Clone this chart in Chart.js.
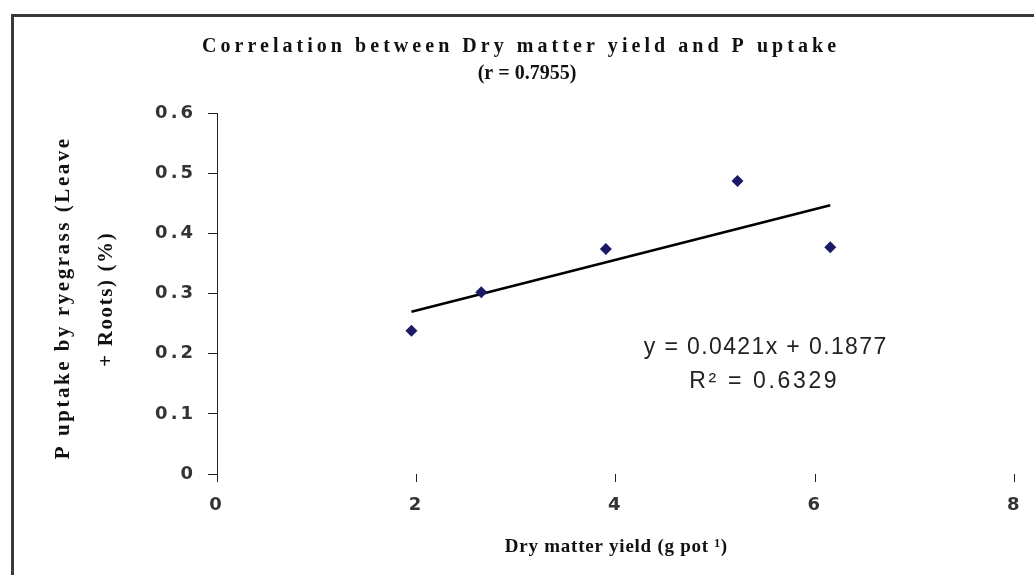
<!DOCTYPE html>
<html>
<head>
<meta charset="utf-8">
<title>Correlation between Dry matter yield and P uptake</title>
<script src="https://cdn.jsdelivr.net/npm/chart.js@4.4.1/dist/chart.umd.min.js"></script>
<style>
  html, body { margin: 0; padding: 0; background: #fff; }
  #wrap { width: 1034px; height: 575px; }
</style>
</head>
<body>
<div id="wrap"><canvas id="chart"></canvas></div>
<script>
'use strict';

// ── Data ─────────────────────────────────────────────────────
const dryMatter = [1.95, 2.65, 3.90, 5.22, 6.15];      // g pot-1
const pUptake   = [0.238, 0.302, 0.374, 0.487, 0.377];  // %
const trendSlope     = 0.0421;
const trendIntercept = 0.1877;

const xTickValues = [0, 2, 4, 6, 8];
const xTickLabels = ['0', '2', '4', '6', '8'];
const yTickValues = [0, 0.1, 0.2, 0.3, 0.4, 0.5, 0.6];
const yTickLabels = ['0', '0.1', '0.2', '0.3', '0.4', '0.5', '0.6'];

const titleLines  = ['Correlation between Dry matter yield and P uptake', '(r = 0.7955)'];
const yTitleLines = ['P uptake by ryegrass (Leave', '+ Roots) (%)'];
const xTitle      = 'Dry matter yield (g pot \u00B9)';
const eqLines     = ['y = 0.0421x + 0.1877', 'R\u00B2 = 0.6329'];

// trend line spans the range of the measured points
const xMin = Math.min(...dryMatter);
const xMax = Math.max(...dryMatter);
const trendPoints = [xMin, xMax].map(x => ({ x, y: trendSlope * x + trendIntercept }));

const SERIF = '"Liberation Serif", "Times New Roman", serif';
const SANS  = '"Liberation Sans", Arial, sans-serif';
const TICK  = '"DejaVu Sans", Verdana, sans-serif';

// draws text spread out with letter spacing to the wanted width
function spacedText(ctx, text, cx, cy, width) {
  ctx.letterSpacing = '0px';
  const w0 = ctx.measureText(text).width;
  const sp = Math.max(0, (width - w0) / text.length);
  ctx.letterSpacing = sp.toFixed(2) + 'px';
  ctx.fillText(text, cx + sp / 2, cy);
  ctx.letterSpacing = '0px';
}

const frameAndText = {
  id: 'frameAndText',
  beforeDraw(chart) {
    const ctx = chart.ctx;
    ctx.save();
    ctx.fillStyle = '#fff';
    ctx.fillRect(0, 0, chart.width, chart.height);
    ctx.strokeStyle = '#3a3a3a';
    ctx.lineWidth = 3;
    ctx.beginPath();
    ctx.moveTo(12.5, chart.height);
    ctx.lineTo(12.5, 15.5);
    ctx.lineTo(chart.width, 15.5);
    ctx.stroke();
    ctx.restore();
    // tick labels in the figure are widely spaced
    ctx.letterSpacing = '3px';
  },
  afterDraw(chart) {
    const ctx = chart.ctx;
    ctx.letterSpacing = '0px';
    ctx.save();
    ctx.textAlign = 'center';
    ctx.textBaseline = 'middle';
    ctx.fillStyle = '#111';

    // chart title
    ctx.font = 'bold 20px ' + SERIF;
    spacedText(ctx, titleLines[0], 519, 47, 638);
    spacedText(ctx, titleLines[1], 527, 74, 80);

    // x axis title
    ctx.font = 'bold 19px ' + SERIF;
    spacedText(ctx, xTitle, 616, 547, 223);

    // y axis title (rotated)
    ctx.font = 'bold 21px ' + SERIF;
    ctx.save();
    ctx.translate(64, 299);
    ctx.rotate(-Math.PI / 2);
    spacedText(ctx, yTitleLines[0], 0, 0, 323);
    ctx.restore();
    ctx.save();
    ctx.translate(107, 300);
    ctx.rotate(-Math.PI / 2);
    spacedText(ctx, yTitleLines[1], 0, 0, 135);
    ctx.restore();

    // regression equation
    ctx.fillStyle = '#222';
    ctx.font = '23px ' + SANS;
    spacedText(ctx, eqLines[0], 765, 348, 244);
    spacedText(ctx, eqLines[1], 763, 382, 150);
    ctx.restore();
  }
};

new Chart(document.getElementById('chart'), {
  type: 'scatter',
  data: {
    datasets: [
      {
        label: 'P uptake',
        data: dryMatter.map((x, i) => ({ x, y: pUptake[i] })),
        pointStyle: 'rectRot',
        pointRadius: 6,
        pointBackgroundColor: '#1a1a66',
        pointBorderColor: '#1a1a66',
        pointBorderWidth: 0
      },
      {
        type: 'line',
        label: 'Linear trend',
        data: trendPoints,
        borderColor: '#000',
        borderWidth: 2.5,
        pointRadius: 0,
        fill: false
      }
    ]
  },
  options: {
    responsive: true,
    maintainAspectRatio: false,
    animation: false,
    layout: { padding: { top: 113, right: 17, left: 0, bottom: 0 } },
    plugins: {
      legend: { display: false },
      title: { display: false },
      tooltip: { enabled: false }
    },
    scales: {
      x: {
        type: 'linear',
        min: 0,
        max: 8,
        afterBuildTicks: s => { s.ticks = xTickValues.map(v => ({ value: v })); },
        afterFit: s => { s.height = 101; },
        border: { display: false },
        grid: { drawOnChartArea: false, drawTicks: true, tickLength: 8, color: '#222', lineWidth: 1 },
        ticks: {
          padding: 13,
          color: '#333',
          font: { family: TICK, size: 18, weight: 'bold' },
          callback: (v, i) => xTickLabels[i]
        }
      },
      y: {
        min: 0,
        max: 0.6,
        afterBuildTicks: s => { s.ticks = yTickValues.map(v => ({ value: v })); },
        afterFit: s => { s.width = 217; },
        border: { display: true, color: '#222', width: 1 },
        grid: { drawOnChartArea: false, drawTicks: true, tickLength: 9, color: '#222', lineWidth: 1 },
        ticks: {
          padding: 12,
          color: '#333',
          font: { family: TICK, size: 18, weight: 'bold' },
          callback: (v, i) => yTickLabels[i]
        }
      }
    }
  },
  plugins: [frameAndText]
});
</script>
</body>
</html>
